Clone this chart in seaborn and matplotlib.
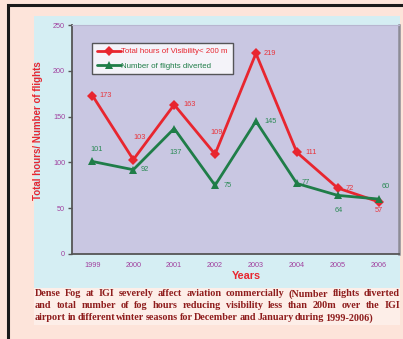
import matplotlib
matplotlib.use("Agg")
import matplotlib.pyplot as plt
from matplotlib.patches import Rectangle
import seaborn as sns
import pandas as pd

# Data: winter seasons (Dec-Jan) at IGI airport
years = [1999, 2000, 2001, 2002, 2003, 2004, 2005, 2006]
fog_hours = [173, 103, 163, 109, 219, 111, 72, 57]
flights_diverted = [101, 92, 137, 75, 145, 77, 64, 60]
series_names = ["Total hours of Visibility< 200 m", "Number of flights diverted"]

df = pd.concat([
    pd.DataFrame({"Years": years, "value": fog_hours, "series": series_names[0]}),
    pd.DataFrame({"Years": years, "value": flights_diverted, "series": series_names[1]}),
])

RED = "#e8262f"
GREEN = "#1f7d48"
PEACH = "#fde4da"
PANEL = "#d5eef3"
PLOT_BG = "#c9c7e2"
TICK = "#a0409e"
CAPTION = "#8e1c1c"

sns.set_style("white")
plt.rcParams["font.family"] = ["Liberation Sans", "DejaVu Sans"]

W, H = 403, 339
fig = plt.figure(figsize=(W / 100, H / 100), dpi=100, facecolor=PEACH)

def px(x0, y0, x1, y1):
    """pixel box (top-left origin) -> figure-fraction rectangle args"""
    return (x0 / W, 1 - y1 / H), (x1 - x0) / W, (y1 - y0) / H

# outer frame, chart panel and caption strip
xy, w, h = px(8, 5, 420, 360)
fig.patches.append(Rectangle(xy, w, h, transform=fig.transFigure, fill=False,
                             edgecolor="#1a1a1a", lw=2.2, zorder=-3))
xy, w, h = px(34, 16, 400, 288)
fig.patches.append(Rectangle(xy, w, h, transform=fig.transFigure,
                             facecolor=PANEL, edgecolor="none", zorder=-2))
xy, w, h = px(34, 288, 400, 325)
fig.patches.append(Rectangle(xy, w, h, transform=fig.transFigure,
                             facecolor="#fdeee8", edgecolor="none", zorder=-2))

ax = fig.add_axes([72 / W, 1 - 254 / H, (399 - 72) / W, (254 - 25) / H])
ax.set_zorder(2)
ax.set_facecolor(PLOT_BG)

sns.lineplot(data=df, x="Years", y="value", hue="series", style="series",
             palette=[RED, GREEN], markers=["D", "^"], dashes=False,
             markersize=5.2, markeredgewidth=0, linewidth=2, ax=ax)

# value labels: (dx, dy) offsets in pixels, y down, with horizontal alignment
red_off = [(7, 0, "left"), (6, -22, "center"), (9, 0, "left"), (2, -22, "center"),
           (8, 0, "left"), (9, 0, "left"), (8, 0, "left"), (0, 9, "center")]
green_off = [(4, -12, "center"), (7, 0, "left"), (1, 24, "center"), (8, 0, "left"),
             (8, 0, "left"), (5, -1, "left"), (1, 15, "center"), (7, -13, "center")]
for vals, offs, col in [(fog_hours, red_off, "#e8343c"), (flights_diverted, green_off, "#2a8a55")]:
    for x, v, (dx, dy, ha) in zip(years, vals, offs):
        ax.annotate(str(v), (x, v), xytext=(dx * 0.72, -dy * 0.72), textcoords="offset points",
                    ha=ha, va="center", fontsize=5.3, color=col)

ax.set_xlim(1998.5, 2006.5)
ax.set_ylim(0, 250)
ax.set_yticks(range(0, 251, 50))
ax.set_xticks(years)
ax.set_xticks([y + 0.5 for y in years[:-1]], minor=True)
ax.tick_params(axis="x", which="major", length=0, pad=6, labelsize=5.2, labelcolor=TICK)
ax.tick_params(axis="x", which="minor", length=3, direction="in", color="#555555", width=1)
ax.tick_params(axis="y", length=3, direction="out", color="#555555", width=1,
               labelsize=5.2, labelcolor=TICK, pad=2, left=True)

for s in ["left", "bottom"]:
    ax.spines[s].set_color("#555555")
    ax.spines[s].set_linewidth(1.3)
ax.spines["right"].set_color("#8c8c96")
ax.spines["right"].set_linewidth(1.8)
ax.spines["top"].set_color("#b8b6d0")
ax.spines["top"].set_linewidth(0.8)

ax.set_xlabel("Years", fontsize=7.8, fontweight="bold", color=RED)
ax.xaxis.set_label_coords((246 - 72) / 327, (254 - 271) / 229)
ax.set_ylabel("Total hours/ Number of flights", fontsize=7.0, fontweight="bold", color=RED)
ax.yaxis.set_label_coords((43 - 72) / 327, (254 - 131) / 229)

leg = ax.legend(loc="upper left", bbox_to_anchor=((92 - 72) / 327, (254 - 43) / 229),
                borderaxespad=0, frameon=True,
                fontsize=5.7, handlelength=3.0, handletextpad=0.1,
                borderpad=0.6, labelspacing=0.85, fancybox=False)
leg.get_frame().set_edgecolor("#333333")
leg.get_frame().set_linewidth(1.0)
leg.get_frame().set_facecolor("white")
for t, c in zip(leg.get_texts(), [RED, GREEN]):
    t.set_color(c)

# justified caption
caption_lines = [
    ("Dense Fog at IGI severely affect aviation commercially (Number flights diverted", True),
    ("and total number of fog hours reducing visibility less than 200m over the IGI", True),
    ("airport in different winter seasons for December and January during 1999-2006)", False),
]
cap_font = dict(family=["Liberation Serif", "DejaVu Serif"], fontweight="bold",
                fontsize=7.3, color=CAPTION)
fig.canvas.draw()
renderer = fig.canvas.get_renderer()
x_left, x_right = 35, 400
for i, (line, justify) in enumerate(caption_lines):
    y = 1 - (294 + 12 * i) / H
    words = line.split(" ")
    texts = [fig.text(0, y, wd, va="center", ha="left", **cap_font) for wd in words]
    widths = [t.get_window_extent(renderer).width for t in texts]
    if justify:
        gap = (x_right - x_left - sum(widths)) / (len(words) - 1)
    else:
        gap = 1.4
    xpos = x_left
    for t, wdt in zip(texts, widths):
        t.set_x(xpos / W)
        xpos += wdt + gap

fig.savefig("out.png", dpi=100, facecolor=PEACH)
